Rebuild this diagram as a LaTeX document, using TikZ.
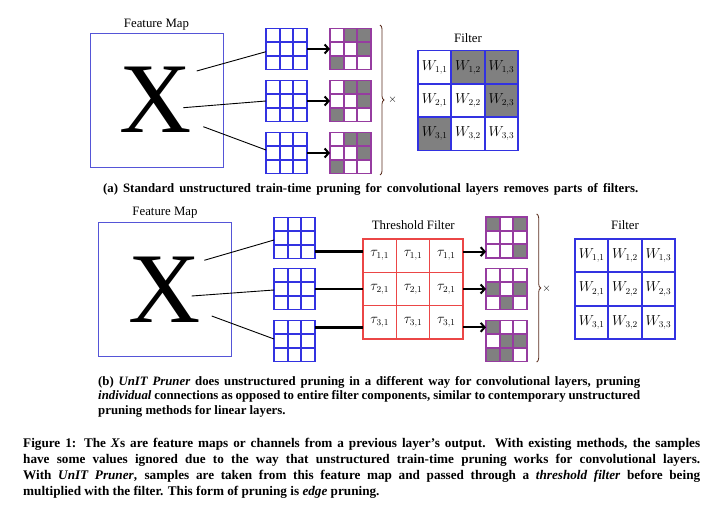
\documentclass[tikz,border=0pt]{standalone}
\usepackage{fontspec}
\setmainfont{Liberation Serif}
\usetikzlibrary{calc,arrows.meta,decorations.pathreplacing,backgrounds}
\definecolor{fmblue}{RGB}{85,85,215}
\definecolor{gridblue}{RGB}{50,50,225}
\definecolor{gridpurple}{RGB}{150,60,160}
\definecolor{cellgray}{RGB}{128,128,128}
\definecolor{thred}{RGB}{235,70,70}
\definecolor{bracecol}{RGB}{90,45,30}
\newcommand\gcell[4]{%
  \begin{pgfonlayer}{background}
  \fill[cellgray] ($(#1.north west)+({(#2-1)*#4},{(#3-1)*#4})$) rectangle +(#4,#4);
  \end{pgfonlayer}}
\newcommand\gridlines[3]{%
  \foreach \i in {1,2}{
    \draw[draw=#2, line width=#3] ($(#1.north west)!\i/3!(#1.north east)$) -- ($(#1.south west)!\i/3!(#1.south east)$);
    \draw[draw=#2, line width=#3] ($(#1.north west)!\i/3!(#1.south west)$) -- ($(#1.north east)!\i/3!(#1.south east)$);}}
\begin{document}
\begin{tikzpicture}[x=1pt,y=-1pt,
  bluegrid/.style={draw=gridblue, line width=1.8pt, inner sep=0pt, outer sep=0pt, minimum width=41pt, minimum height=41pt},
  purplegrid/.style={draw=gridpurple, line width=1.8pt, inner sep=0pt, outer sep=0pt, minimum width=41pt, minimum height=41pt},
  filterframe/.style={draw=gridblue, line width=1.7pt, inner sep=0pt, outer sep=0pt, minimum width=100pt, minimum height=100pt},
  threshframe/.style={draw=thred, line width=1.6pt, inner sep=0pt, outer sep=0pt, minimum width=100pt, minimum height=100pt},
  cellnode/.style={inner sep=0pt, outer sep=0pt, font=\fontsize{13.5}{15}\selectfont},
  fmbox/.style={draw=fmblue, line width=0.9pt, minimum width=133pt, minimum height=134pt, inner sep=0pt, outer sep=0pt},
  bigx/.style={inner sep=0pt, font=\fontsize{100}{100}\selectfont},
  lbl/.style={anchor=base, inner sep=0pt, font=\fontsize{12.8}{15}\selectfont},
  thinln/.style={line width=0.9pt, black},
  arr/.style={line width=2pt, -{Straight Barb[length=4pt,width=9pt]}},
  thickln/.style={line width=2.6pt},
  bracest/.style={decorate, decoration={brace, amplitude=4pt}, draw=bracecol, line width=0.8pt},
  timesnode/.style={inner sep=0pt, font=\fontsize{11}{13}\selectfont},
  capline/.style={anchor=base west, inner sep=0pt, font=\bfseries\fontsize{12.8}{14}\selectfont},
  figline/.style={anchor=base west, inner sep=0pt, font=\bfseries\fontsize{13.2}{16}\selectfont},
]
\useasboundingbox (0,0) rectangle (725,510);

% ================= (a) =================
\node[lbl] (fmlabA) at (156.5,27.5) {Feature Map};
\node[fmbox] (fmA) at (156.5,100) {};
\node[bigx] (xA) at (155.5,100) {X};
\node[bluegrid] (bA1) at (286.5,49) {};
\node[bluegrid] (bA2) at (286.5,101) {};
\node[bluegrid] (bA3) at (286.5,153) {};
\node[purplegrid] (pA1) at (350.5,49) {};
\node[purplegrid] (pA2) at (350.5,101) {};
\node[purplegrid] (pA3) at (350.5,153) {};
\foreach \g in {bA1,bA2,bA3}{\gridlines{\g}{gridblue}{1.8pt}}
\foreach \g in {pA1,pA2,pA3}{\gridlines{\g}{gridpurple}{1.8pt}
  \gcell{\g}{2}{1}{41/3}\gcell{\g}{3}{1}{41/3}\gcell{\g}{3}{2}{41/3}\gcell{\g}{1}{3}{41/3}}
\coordinate (xA1) at (196.7,71);
\coordinate (xA2) at (183.3,107.7);
\coordinate (xA3) at (203.3,126.7);
\draw[thinln] (xA1) -- ($(bA1.west)+(0,2.7)$);
\draw[thinln] (xA2) -- (bA2.west);
\draw[thinln] (xA3) -- ($(bA3.west)+(0,-3)$);
\draw[arr] (bA1.east) -- (pA1.west);
\draw[arr] (bA2.east) -- (pA2.west);
\draw[arr] (bA3.east) -- (pA3.west);
\coordinate (brAt) at (380,25);
\coordinate (brAb) at (380,175);
\draw[bracest] (brAt) -- (brAb);
\node[timesnode] (timesA) at (392.7,100) {$\times$};
\node[lbl] (flabA) at (468,42.3) {Filter};
\foreach \r in {1,2,3}{\foreach \c in {1,2,3}{
  \node[cellnode] (wA\r\c) at ({418+(\c-0.5)*100/3},{50.5+(\r-0.5)*100/3}) {$W_{\r,\c}$};}}
\node[filterframe] (fA) at (468,100.5) {};
\gridlines{fA}{gridblue}{1.7pt}
\gcell{fA}{2}{1}{100/3}\gcell{fA}{3}{1}{100/3}\gcell{fA}{3}{2}{100/3}\gcell{fA}{1}{3}{100/3}
\node[capline] (capA) at (103,193)
  {\makebox[535pt][s]{(a) Standard unstructured train-time pruning for convolutional layers removes parts of filters.}};

% ================= (b) =================
\node[lbl] (fmlabB) at (165,215.7) {Feature Map};
\node[fmbox] (fmB) at (165,289.5) {};
\node[bigx] (xB) at (164.5,290) {X};
\node[bluegrid] (bB1) at (294.5,238) {};
\node[bluegrid] (bB2) at (294.5,289) {};
\node[bluegrid] (bB3) at (294.5,341) {};
\node[purplegrid] (pB1) at (506.5,237.5) {};
\node[purplegrid] (pB2) at (506.5,289) {};
\node[purplegrid] (pB3) at (506.5,341) {};
\foreach \g in {bB1,bB2,bB3}{\gridlines{\g}{gridblue}{1.8pt}}
\foreach \g in {pB1,pB2,pB3}{\gridlines{\g}{gridpurple}{1.8pt}}
\gcell{pB1}{1}{1}{41/3}\gcell{pB1}{3}{1}{41/3}\gcell{pB1}{3}{3}{41/3}
\gcell{pB2}{1}{2}{41/3}\gcell{pB2}{3}{2}{41/3}\gcell{pB2}{2}{3}{41/3}
\gcell{pB3}{1}{1}{41/3}\gcell{pB3}{2}{2}{41/3}\gcell{pB3}{3}{2}{41/3}\gcell{pB3}{1}{3}{41/3}\gcell{pB3}{2}{3}{41/3}
\coordinate (xB1) at (204.3,260.3);
\coordinate (xB2) at (191.7,296);
\coordinate (xB3) at (211.7,316);
\draw[thinln] (xB1) -- ($(bB1.west)+(0,2)$);
\draw[thinln] (xB2) -- ($(bB2.west)+(0,1)$);
\draw[thinln] (xB3) -- ($(bB3.west)+(0,-2)$);
\node[lbl] (tlab) at (413.3,230) {Threshold Filter};
\foreach \r in {1,2,3}{\foreach \c in {1,2,3}{
  \node[cellnode] (t\r\c) at ({363+(\c-0.5)*100/3},{239+(\r-0.5)*100/3}) {$\tau_{\r,1}$};}}
\node[threshframe] (tf) at (413,289) {};
\gridlines{tf}{thred}{1.6pt}
\coordinate (l1) at ($(bB1.south east)!1/6!(bB1.north east)$);
\coordinate (l2) at (bB2.east);
\coordinate (l3) at ($(bB3.north east)!1/6!(bB3.south east)$);
\foreach \l/\p in {l1/pB1,l2/pB2,l3/pB3}{
  \draw[thickln] (\l) -- (\l -| tf.west);
  \draw[arr] (\l -| tf.east) -- (\l -| \p.west);}
\coordinate (brBt) at (536.7,214);
\coordinate (brBb) at (536.7,362);
\draw[bracest] (brBt) -- (brBb);
\node[timesnode] (timesB) at (546.7,288.5) {$\times$};
\node[lbl] (flabB) at (625,230) {Filter};
\foreach \r in {1,2,3}{\foreach \c in {1,2,3}{
  \node[cellnode] (wB\r\c) at ({575+(\c-0.5)*100/3},{239+(\r-0.5)*100/3}) {$W_{\r,\c}$};}}
\node[filterframe] (fB) at (625,289) {};
\gridlines{fB}{gridblue}{1.7pt}
\node[capline] (capB1) at (98,385)
  {\makebox[542pt][s]{(b) \textit{UnIT Pruner} does unstructured pruning in a different way for convolutional layers, pruning}};
\node[capline] (capB2) at (98,399.5)
  {\makebox[542pt][s]{\textit{individual} connections as opposed to entire filter components, similar to contemporary unstructured}};
\node[capline] (capB3) at (98,414)
  {pruning methods for linear layers.};

% ================= figure caption =================
\node[figline] (cap1) at (23,447)
  {\makebox[677pt][s]{Figure 1: The \textit{X}s are feature maps or channels from a previous layer’s output. With existing methods, the samples}};
\node[figline] (cap2) at (23,463)
  {\makebox[677pt][s]{have some values ignored due to the way that unstructured train-time pruning works for convolutional layers.}};
\node[figline] (cap3) at (23,479)
  {\makebox[677pt][s]{With \textit{UnIT Pruner}, samples are taken from this feature map and passed through a \textit{threshold filter} before being}};
\node[figline] (cap4) at (23,495)
  {multiplied with the filter. This form of pruning is \textit{edge} pruning.};
\end{tikzpicture}
\end{document}
